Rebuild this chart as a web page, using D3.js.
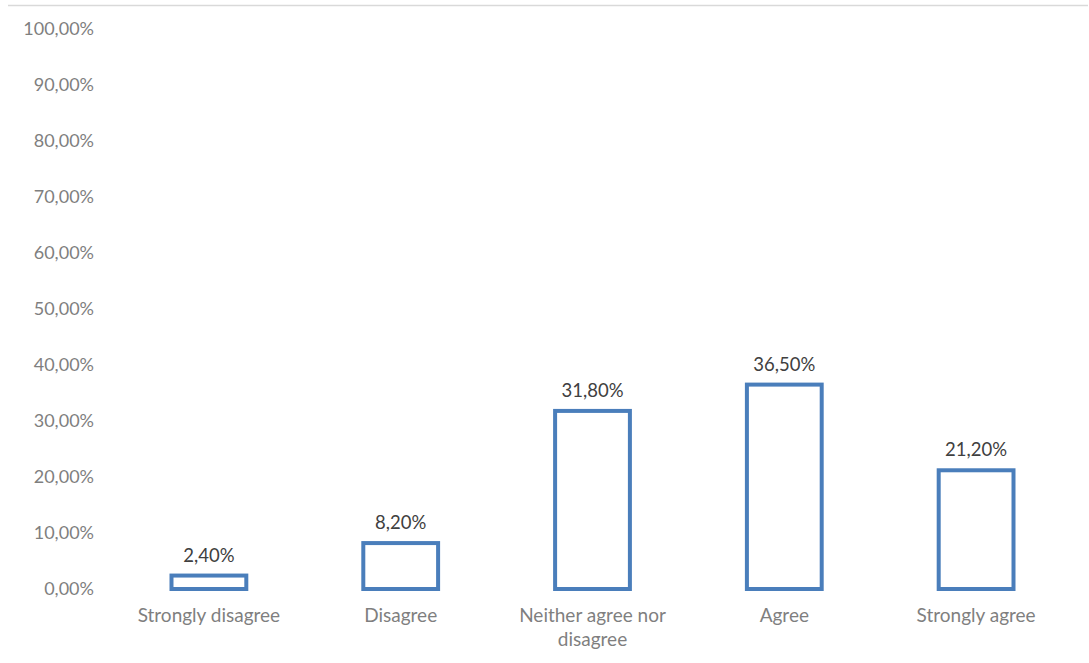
<!DOCTYPE html>
<html><head><meta charset="utf-8">
<script src="https://cdn.jsdelivr.net/npm/d3@7"></script>
<style>body{margin:0;background:#fff}svg{display:block}</style>
</head><body>
<svg id="c" width="1089" height="663"></svg>
<script>
const categories = ["Strongly disagree","Disagree","Neither agree nor disagree","Agree","Strongly agree"];
const values = [2.4, 8.2, 31.8, 36.5, 21.2];
const yTicks = [0,10,20,30,40,50,60,70,80,90,100];

const W=1089,H=663;
const svg=d3.select("#c");
const font="Lato, 'Open Sans', sans-serif";
const margin={left:113,right:17,top:29,bottom:74};
const x=d3.scaleBand().domain(categories).range([margin.left,W-margin.right]).paddingInner(0.61).paddingOuter(0.305);
const y=d3.scaleLinear().domain([0,100]).range([H-margin.bottom,margin.top]);
const fmt=v=>v.toFixed(2).replace(".",",")+"%";

// top border line
svg.append("line").attr("x1",8).attr("x2",1088).attr("y1",5.5).attr("y2",5.5).attr("stroke","#d9d9d9").attr("stroke-width",1.5);

const yAxis=d3.axisLeft(y).tickValues(yTicks).tickFormat(fmt).tickSize(0).tickPadding(0);
const ga=svg.append("g").attr("transform",`translate(94,0)`).call(yAxis);
ga.select(".domain").remove();
ga.selectAll("text").attr("font-family",font).attr("font-size",18).attr("fill","#7f7f7f");

const xAxis=d3.axisBottom(x).tickSize(0).tickPadding(0);
const gx=svg.append("g").attr("transform",`translate(0,${y(0)+19})`).call(xAxis);
gx.select(".domain").remove();
gx.selectAll("text").attr("font-family",font).attr("font-size",19).attr("fill","#7f7f7f")
  .each(function(d){
    const t=d3.select(this);
    if(d==="Neither agree nor disagree"){
      t.text(null);
      t.append("tspan").attr("x",0).attr("dy","0.71em").text("Neither agree nor");
      t.append("tspan").attr("x",0).attr("dy","1.3em").text("disagree");
    }
  });

svg.append("g").selectAll("rect").data(values).join("rect")
  .attr("x",(d,i)=>x(categories[i]))
  .attr("width",x.bandwidth())
  .attr("y",d=>y(d))
  .attr("height",d=>y(0)-y(d))
  .attr("fill","none").attr("stroke","#4a7ebb").attr("stroke-width",4);

svg.append("g").selectAll("text").data(values).join("text")
  .attr("x",(d,i)=>x(categories[i])+x.bandwidth()/2)
  .attr("y",d=>y(d)-14)
  .attr("text-anchor","middle")
  .attr("font-family",font).attr("font-size",18.5).attr("fill","#404040")
  .text(d=>d.toFixed(2).replace(".",",")+"%");
</script>
</body></html>
